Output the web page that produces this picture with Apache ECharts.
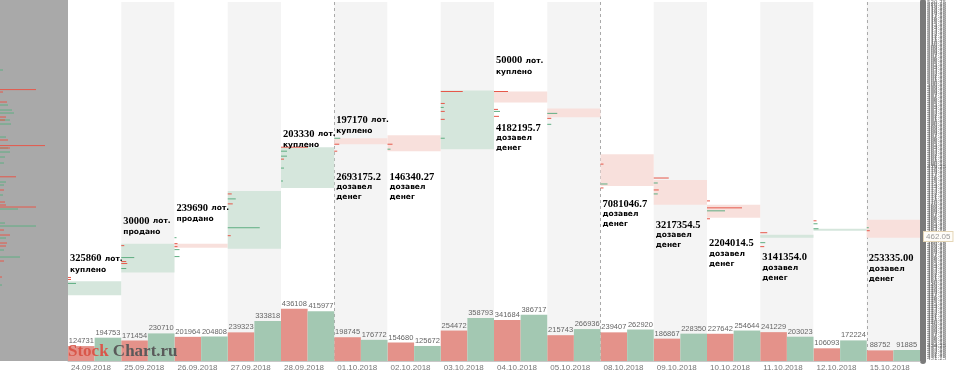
<!DOCTYPE html>
<html>
<head>
<meta charset="utf-8">
<script src="https://cdn.jsdelivr.net/npm/echarts@6/dist/echarts.min.js"></script>
<style>
  html, body { margin: 0; padding: 0; background: #fff; }
  #chart { width: 960px; height: 375px; }
</style>
</head>
<body>
<div id="chart"></div>
<script>
// days shown on the chart
const dates = ['24.09.2018', '25.09.2018', '26.09.2018', '27.09.2018', '28.09.2018',
  '01.10.2018', '02.10.2018', '03.10.2018', '04.10.2018', '05.10.2018',
  '08.10.2018', '09.10.2018', '10.10.2018', '11.10.2018', '12.10.2018', '15.10.2018'];
const weekStarts = [5, 10, 15];

// daily volume: sells (red) and buys (green)
const sellVol = [124731, 171454, 201964, 239323, 436108, 198745, 154680, 254472,
  341684, 215743, 239407, 186867, 227642, 241229, 106093, 88752];
const buyVol = [194753, 230710, 204808, 333818, 415977, 176772, 125672, 358793,
  386717, 266936, 262920, 228350, 254644, 203023, 172224, 91885];

// daily price zone (high / low) and its colour side: b = green, s = red
const boxHigh = [450.8, 460.25, 460.25, 473.5, 484.5, 486.75, 487.5, 498.75,
  498.5, 494.25, 482.75, 476.25, 470.0, 462.5, 464.0, 466.25];
const boxLow = [447.3, 453.0, 459.25, 459.0, 474.25, 485.25, 483.5, 484.0,
  495.75, 492.0, 474.75, 470.0, 466.75, 461.75, 463.5, 461.75];
const boxSide = ['b', 'b', 's', 'b', 'b', 's', 's', 'b', 's', 's', 's', 's', 's', 'b', 'b', 's'];

// "лот." notes
const lotDay = [0, 1, 2, 4, 5, 8];
const lotSize = ['325860', '30000', '239690', '203330', '197170', '50000'];
const lotWord = ['куплено', 'продано', 'продано', 'куплено', 'куплено', 'куплено'];
const lotTop = [458.0, 467.5, 470.75, 489.25, 492.75, 507.75];

// "дозавел денег" notes
const moneyDay = [5, 6, 8, 10, 11, 12, 13, 15];
const moneySum = ['2693175.2', '146340.27', '4182195.7', '7081046.7', '3217354.5',
  '2204014.5', '3141354.0', '253335.00'];
const moneyTop = [478.25, 478.25, 490.5, 471.5, 466.25, 461.5, 458.0, 457.75];

const lastPrice = 462.05;

// intraday volume profile: [day, price, side 0 = sell / 1 = buy, volume]
const dayProfile = [
  [0, 451.75, 0, 60], [0, 450.25, 1, 160], [0, 451.25, 0, 60],
  [1, 459.75, 0, 60], [1, 456.75, 1, 260], [1, 455.75, 0, 100], [1, 455.25, 0, 120], [1, 454.0, 1, 100],
  [2, 461.75, 1, 40], [2, 460.25, 0, 60], [2, 459.5, 0, 60], [2, 458.75, 1, 100], [2, 457.0, 1, 100],
  [3, 470.25, 0, 100], [3, 471.5, 1, 160], [3, 464.25, 1, 640], [3, 462.25, 0, 60], [3, 472.75, 0, 80],
  [4, 484.5, 0, 540], [4, 483.5, 1, 120], [4, 482.25, 1, 120], [4, 481.5, 0, 60], [4, 479.25, 1, 60], [4, 476.0, 1, 40],
  [5, 485.25, 0, 100], [5, 486.75, 1, 120], [5, 483.5, 0, 60],
  [6, 485.25, 0, 100], [6, 484.0, 1, 60],
  [7, 498.5, 0, 440], [7, 495.5, 0, 80], [7, 493.5, 0, 80], [7, 491.5, 0, 80], [7, 486.75, 1, 80], [7, 494.5, 1, 60],
  [8, 498.5, 0, 280], [8, 494.0, 0, 80], [8, 493.5, 1, 120], [8, 492.25, 0, 100],
  [9, 493.0, 1, 200], [9, 491.75, 0, 80], [9, 490.25, 1, 80],
  [10, 475.25, 1, 140], [10, 474.25, 0, 60], [10, 480.25, 0, 60],
  [11, 476.75, 0, 300], [11, 475.5, 1, 80], [11, 473.75, 0, 100], [11, 472.75, 1, 80],
  [12, 469.25, 0, 700], [12, 468.5, 1, 360], [12, 471.0, 0, 60], [12, 466.5, 0, 60],
  [13, 463.0, 0, 140], [13, 460.5, 1, 100], [13, 459.5, 0, 80],
  [14, 465.25, 1, 80], [14, 466.0, 0, 60], [14, 464.0, 1, 100],
  [15, 463.5, 0, 60], [15, 464.25, 1, 40]
];
const dayProfileScale = 1065; // volume that fills a whole day column

// whole-period profile in the grey panel: [price, side, volume]
const totalProfile = [
  [503.5, 1, 60], [498.6, 0, 720], [498.0, 0, 60], [495.5, 0, 140], [494.75, 1, 160],
  [493.5, 1, 240], [492.75, 1, 280], [491.75, 0, 120], [491.0, 1, 200], [491.0, 0, 100],
  [490.0, 1, 220], [486.75, 1, 120], [486.0, 0, 160], [484.6, 0, 900], [484.0, 1, 160],
  [484.0, 0, 200], [483.0, 1, 200], [481.75, 1, 100], [480.25, 1, 80], [476.8, 0, 320],
  [475.5, 1, 120], [474.75, 1, 80], [473.5, 0, 80], [472.25, 1, 60], [470.5, 0, 100],
  [469.75, 0, 120], [469.25, 0, 720], [468.75, 1, 360], [465.25, 1, 100], [464.5, 1, 720],
  [463.5, 0, 80], [462.25, 0, 200], [461.5, 1, 120], [460.25, 0, 140], [459.5, 0, 120],
  [458.5, 1, 80], [456.75, 1, 400], [455.75, 0, 80], [451.75, 0, 40], [449.75, 1, 40]
];

const priceMin = 430.75;
const priceMax = 521;

const RED = '#e4928a';
const GREEN = '#a3c8b2';
const BOX_RED = '#f8e0dc';
const BOX_GREEN = '#d5e6dc';
const LINE_RED = '#e6584a';
const LINE_GREEN = '#5fae82';

const chart = echarts.init(document.getElementById('chart'));

const noteRich = {
  n: { fontFamily: 'Liberation Serif', fontWeight: 'bold', fontSize: 10.5, color: '#222', lineHeight: 10 },
  s: { fontFamily: 'DejaVu Sans', fontWeight: 'bold', fontSize: 7.5, color: '#333', lineHeight: 10 }
};

const notes = lotDay.map((d, k) => [d, lotTop[k], `{n|${lotSize[k]}} {s|лот.}\n{s|${lotWord[k]}}`])
  .concat(moneyDay.map((d, k) => [d, moneyTop[k], `{n|${moneySum[k]}}\n{s|дозавел}\n{s|денег}`]));

chart.setOption({
  animation: false,
  backgroundColor: '#fff',
  grid: [
    { left: 68, top: 0, width: 852, height: 361 },
    { left: 0, top: 0, width: 68, height: 361, show: true, backgroundColor: '#a9a9a9', borderWidth: 0 }
  ],
  xAxis: [
    {
      type: 'category',
      gridIndex: 0,
      data: dates,
      boundaryGap: true,
      axisLine: { show: true, lineStyle: { color: '#c8c8c8', width: 1 } },
      axisTick: { show: false },
      axisLabel: { show: false, interval: 0 },
      splitArea: { show: true, interval: 0, areaStyle: { color: ['#ffffff', '#f4f4f4'] } },
      splitLine: {
        show: true,
        interval: (i) => weekStarts.includes(i),
        lineStyle: { color: '#aaa', type: [3, 3], width: 1 }
      }
    },
    {
      type: 'value',
      gridIndex: 0,
      min: 0,
      max: dates.length,
      interval: 1,
      position: 'bottom',
      axisLine: { show: false },
      axisTick: { show: false },
      splitLine: { show: false },
      axisLabel: {
        align: 'left',
        margin: 3,
        padding: [0, 0, 0, 3],
        fontFamily: 'Liberation Sans',
        fontSize: 8,
        color: '#777',
        formatter: (v) => dates[v] || ''
      }
    },
    { type: 'value', gridIndex: 1, min: 0, max: 1360, show: false }
  ],
  yAxis: [
    { type: 'value', gridIndex: 0, min: priceMin, max: priceMax, show: false },
    { type: 'value', gridIndex: 0, min: 0, max: 3000000, show: false },
    {
      type: 'value',
      gridIndex: 0,
      position: 'right',
      min: 0,
      max: 180.5,
      interval: 1,
      offset: 3,
      axisLine: { show: true, lineStyle: { color: '#7a7a7a', width: 6 } },
      axisTick: { show: false },
      splitLine: { show: false },
      axisLabel: {
        margin: 4,
        hideOverlap: false,
        fontFamily: 'DejaVu Sans',
        fontSize: 5.5,
        color: '#6e6e6e',
        formatter: (v) => (priceMin + v * 0.5).toFixed(2)
      }
    },
    { type: 'value', gridIndex: 1, min: priceMin, max: priceMax, show: false }
  ],
  graphic: [
    {
      type: 'text',
      left: 68,
      top: 343,
      z: 50,
      style: {
        text: '{a|Stock}{b| Chart.ru}',
        rich: {
          a: { fontFamily: 'Liberation Serif', fontWeight: 'bold', fontSize: 17, fill: '#d9574a' },
          b: { fontFamily: 'Liberation Serif', fontWeight: 'bold', fontSize: 17, fill: '#5a5a5a' }
        }
      }
    }
  ],
  series: [
    {
      name: 'sell',
      type: 'bar',
      xAxisIndex: 0,
      yAxisIndex: 1,
      data: sellVol,
      barGap: '0%',
      barCategoryGap: '0%',
      itemStyle: { color: RED },
      label: {
        show: true, position: 'top', distance: 1,
        fontFamily: 'Liberation Sans', fontSize: 7.5, color: '#666'
      },
      z: 3
    },
    {
      name: 'buy',
      type: 'bar',
      xAxisIndex: 0,
      yAxisIndex: 1,
      data: buyVol,
      barGap: '0%',
      barCategoryGap: '0%',
      itemStyle: { color: GREEN },
      label: {
        show: true, position: 'top', distance: 1,
        fontFamily: 'Liberation Sans', fontSize: 7.5, color: '#666'
      },
      z: 3
    },
    {
      name: 'zone',
      type: 'custom',
      xAxisIndex: 0,
      yAxisIndex: 0,
      data: dates.map((d, i) => [i, boxLow[i], boxHigh[i], boxSide[i] === 'b' ? 1 : 0]),
      encode: { x: 0, y: [1, 2] },
      renderItem: (params, api) => {
        const i = api.value(0);
        const lo = api.coord([i, api.value(1)]);
        const hi = api.coord([i, api.value(2)]);
        const w = api.size([1, 0])[0];
        return {
          type: 'rect',
          shape: { x: lo[0] - w / 2, y: hi[1], width: w, height: Math.max(2, lo[1] - hi[1]) },
          style: { fill: api.value(3) ? BOX_GREEN : BOX_RED }
        };
      },
      z: 2
    },
    {
      name: 'profile',
      type: 'custom',
      xAxisIndex: 0,
      yAxisIndex: 0,
      data: dayProfile,
      encode: { x: 0, y: 1 },
      renderItem: (params, api) => {
        const c = api.coord([api.value(0), api.value(1)]);
        const w = api.size([1, 0])[0];
        const x0 = c[0] - w / 2;
        const len = w * api.value(3) / dayProfileScale;
        return {
          type: 'line',
          shape: { x1: x0, y1: c[1], x2: x0 + len, y2: c[1] },
          style: { stroke: api.value(2) ? LINE_GREEN : LINE_RED, lineWidth: 1 }
        };
      },
      z: 4
    },
    {
      name: 'notes',
      type: 'custom',
      xAxisIndex: 0,
      yAxisIndex: 0,
      data: notes,
      encode: { x: 0, y: 1 },
      renderItem: (params, api) => {
        const k = params.dataIndex;
        const c = api.coord([api.value(0), api.value(1)]);
        const w = api.size([1, 0])[0];
        return {
          type: 'text',
          x: c[0] - w / 2 + 2,
          y: c[1],
          style: { text: notes[k][2], rich: noteRich, align: 'left', verticalAlign: 'top' }
        };
      },
      z: 10
    },
    {
      name: 'last',
      type: 'custom',
      xAxisIndex: 0,
      yAxisIndex: 0,
      data: [[dates.length - 1, lastPrice]],
      encode: { x: 0, y: 1 },
      clip: false,
      renderItem: (params, api) => {
        const c = api.coord([api.value(0), api.value(1)]);
        const right = params.coordSys.x + params.coordSys.width;
        return {
          type: 'text',
          x: right + 4,
          y: c[1],
          style: {
            text: lastPrice.toFixed(2),
            fontFamily: 'Liberation Sans', fontSize: 8, fill: '#9a9a9a',
            backgroundColor: '#fffdf8', borderColor: '#e5d6b6', borderWidth: 1,
            padding: [1, 2, 0, 2], verticalAlign: 'middle', align: 'left'
          }
        };
      },
      z: 20
    },
    {
      name: 'total',
      type: 'custom',
      xAxisIndex: 2,
      yAxisIndex: 3,
      data: totalProfile,
      encode: { x: 2, y: 0 },
      renderItem: (params, api) => {
        const a = api.coord([0, api.value(0)]);
        const b = api.coord([api.value(2), api.value(0)]);
        return {
          type: 'line',
          shape: { x1: a[0], y1: a[1], x2: b[0], y2: b[1] },
          style: { stroke: api.value(1) ? LINE_GREEN : LINE_RED, lineWidth: 1 }
        };
      },
      z: 4
    }
  ]
});
</script>
</body>
</html>
